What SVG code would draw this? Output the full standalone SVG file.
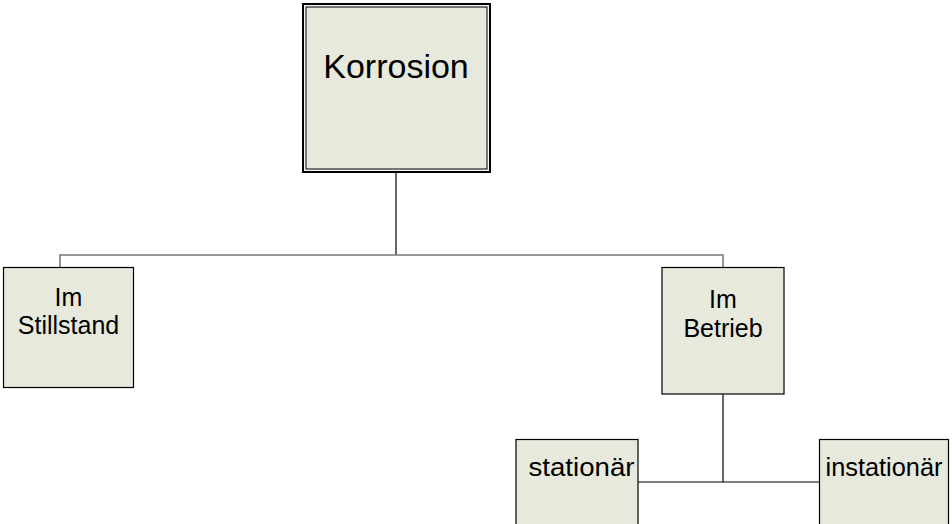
<svg xmlns="http://www.w3.org/2000/svg" width="952" height="524" viewBox="0 0 952 524">
<style>
.box{fill:#E6E9DC;stroke:#000;stroke-width:1.2}
.t{font-family:"Liberation Sans",Arial,sans-serif;fill:#000;text-anchor:middle}
.c{fill:none;stroke:#000;stroke-width:1.2}
.g{fill:none;stroke:#7a7a7a;stroke-width:1.6}
</style>
<rect width="952" height="524" fill="#fff"/>
<g id="connectors">
<line class="c" x1="396" y1="173" x2="396" y2="255"/>
<polyline class="g" points="60,267 60,255 723,255 723,267"/>
<line class="c" x1="723" y1="394" x2="723" y2="482"/>
<line class="c" x1="638" y1="482" x2="820" y2="482"/>
</g>
<g id="korrosion">
<rect x="303" y="4" width="187" height="168" fill="#f4f4f4" stroke="#000" stroke-width="2"/>
<rect x="306" y="7" width="181" height="162" fill="#E6E9DC" stroke="#000" stroke-width="1"/>
<text class="t" x="396" y="77.5" font-size="34">Korrosion</text>
</g>
<g id="stillstand">
<rect class="box" x="3.5" y="267.5" width="130" height="120"/>
<text class="t" x="68.5" y="305.5" font-size="25">Im</text>
<text class="t" x="68.5" y="334" font-size="25">Stillstand</text>
</g>
<g id="betrieb">
<rect class="box" x="662" y="267.5" width="122" height="126.5"/>
<text class="t" x="723" y="308" font-size="25">Im</text>
<text class="t" x="723" y="337" font-size="25">Betrieb</text>
</g>
<g id="stationaer">
<rect class="box" x="516" y="439.5" width="122" height="90"/>
<text class="t" x="581.5" y="476" font-size="26" textLength="106" lengthAdjust="spacingAndGlyphs">stationär</text>
</g>
<g id="instationaer">
<rect class="box" x="819.5" y="439.5" width="129" height="90"/>
<text class="t" x="884" y="476" font-size="26" textLength="117" lengthAdjust="spacingAndGlyphs">instationär</text>
</g>
</svg>
